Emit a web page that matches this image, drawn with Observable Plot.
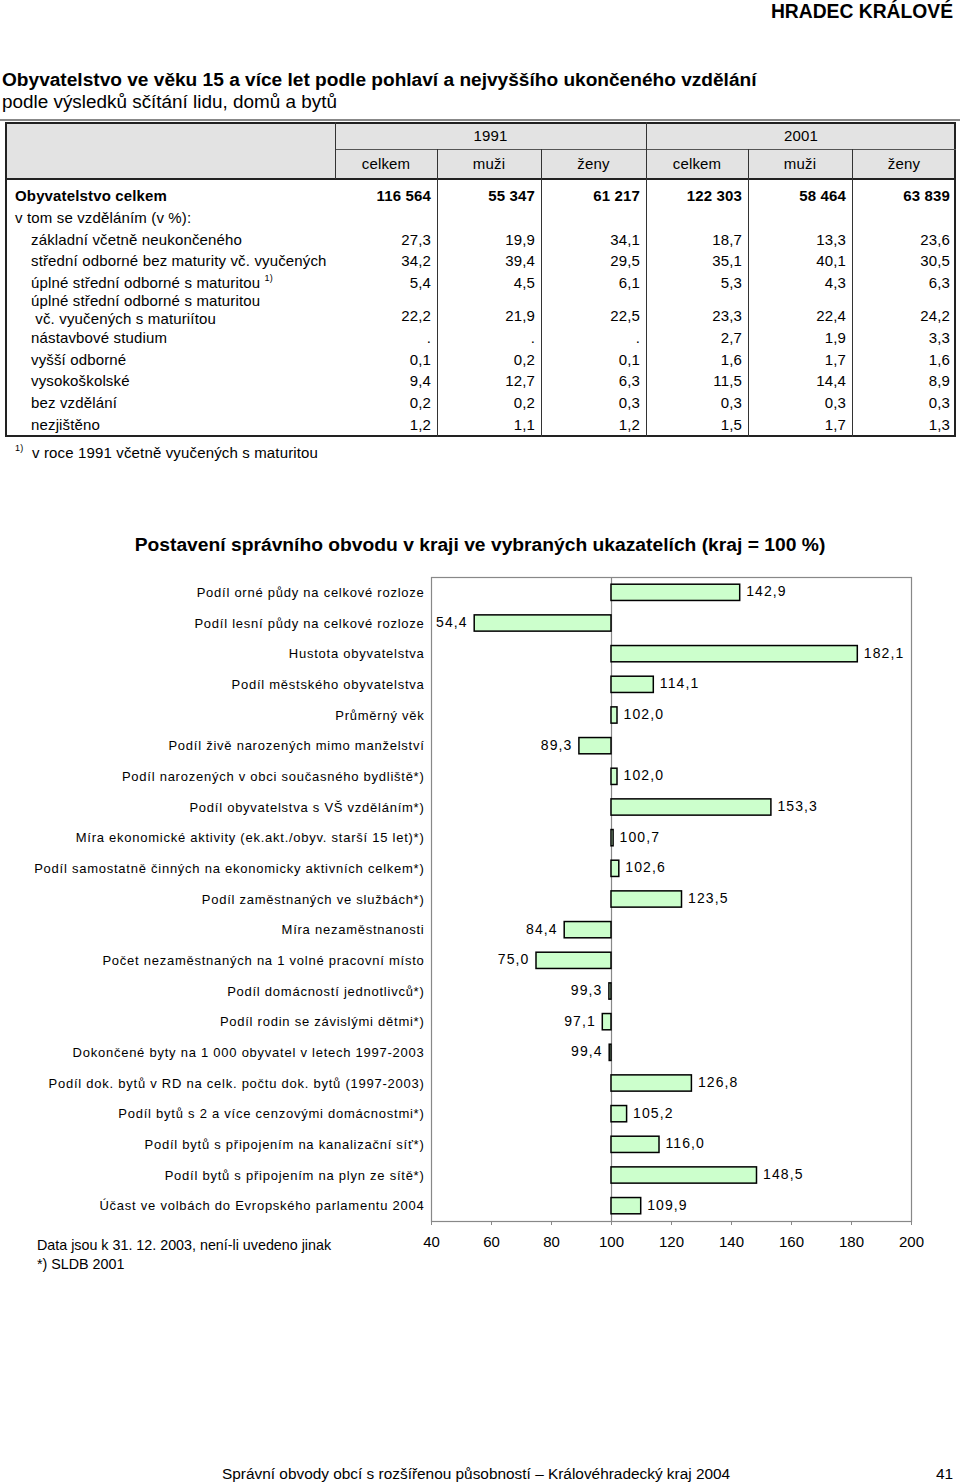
<!DOCTYPE html>
<html>
<head>
<meta charset="utf-8">
<script src="https://cdn.jsdelivr.net/npm/d3@7"></script>
<script src="https://cdn.jsdelivr.net/npm/@observablehq/plot@0.6"></script>
<style>
html,body{margin:0;padding:0;background:#fff;}
body{width:960px;height:1484px;position:relative;overflow:hidden;font-family:"Liberation Sans",Arial,sans-serif;color:#000;}
.abs{position:absolute;white-space:nowrap;}
.ln{position:absolute;background:#333;}
.tc{position:absolute;white-space:nowrap;font-size:15px;line-height:17px;letter-spacing:0.15px;}
sup.fn{font-size:9px;vertical-align:7px;line-height:0;}
#chart{position:absolute;left:0;top:560px;}
#chart g[aria-label="y-axis tick label"] text{letter-spacing:0.75px;}
#chart g[aria-label="text"] text{letter-spacing:1.1px;}
</style>
</head>
<body>
<div class="abs" style="right:7px;top:1px;font-size:19.3px;line-height:22px;font-weight:bold;">HRADEC KRÁLOVÉ</div>
<div class="abs" style="left:2px;top:69px;font-size:19.1px;line-height:22px;font-weight:bold;">Obyvatelstvo ve věku 15 a více let podle pohlaví a nejvyššího ukončeného vzdělání</div>
<div class="abs" style="left:2px;top:91px;font-size:18.9px;line-height:22px;">podle výsledků sčítání lidu, domů a bytů</div>
<div class="ln" style="left:0;top:119px;width:960px;height:2px;background:#888;"></div>
<div id="table"></div>
<div class="abs" style="left:0;width:960px;text-align:center;top:534px;font-size:19.25px;line-height:22px;font-weight:bold;">Postavení správního obvodu v kraji ve vybraných ukazatelích (kraj = 100 %)</div>
<div id="chart"></div>
<div class="abs" style="left:37px;top:1236px;font-size:14.3px;line-height:18px;z-index:2;">Data jsou k 31. 12. 2003, není-li uvedeno jinak</div>
<div class="abs" style="left:37px;top:1255px;font-size:14.3px;line-height:18px;z-index:2;">*) SLDB 2001</div>
<div class="abs" style="left:222px;top:1464px;font-size:15.4px;line-height:20px;">Správní obvody obcí s rozšířenou působností – Královéhradecký kraj 2004</div>
<div class="abs" style="right:7px;top:1464px;font-size:15.4px;line-height:20px;">41</div>
<script>
// ---------- table data ----------
const yearLabels = ["1991", "2001"];
const colLabels = ["celkem", "muži", "ženy", "celkem", "muži", "ženy"];
const rowLabels = [
  "Obyvatelstvo celkem",
  "v tom se vzděláním (v %):",
  "základní včetně neukončeného",
  "střední odborné bez maturity vč. vyučených",
  "úplné střední odborné s maturitou",
  "úplné střední odborné s maturitou| vč. vyučených s maturiítou",
  "nástavbové studium",
  "vyšší odborné",
  "vysokoškolské",
  "bez vzdělání",
  "nezjištěno"
];
const rowNotes = ["", "", "", "", "1)", "", "", "", "", "", ""];
const v1991celkem = ["116 564", "", "27,3", "34,2", "5,4", "22,2", ".", "0,1", "9,4", "0,2", "1,2"];
const v1991muzi   = ["55 347", "", "19,9", "39,4", "4,5", "21,9", ".", "0,2", "12,7", "0,2", "1,1"];
const v1991zeny   = ["61 217", "", "34,1", "29,5", "6,1", "22,5", ".", "0,1", "6,3", "0,3", "1,2"];
const v2001celkem = ["122 303", "", "18,7", "35,1", "5,3", "23,3", "2,7", "1,6", "11,5", "0,3", "1,5"];
const v2001muzi   = ["58 464", "", "13,3", "40,1", "4,3", "22,4", "1,9", "1,7", "14,4", "0,3", "1,7"];
const v2001zeny   = ["63 839", "", "23,6", "30,5", "6,3", "24,2", "3,3", "1,6", "8,9", "0,3", "1,3"];
const tableNote = "v roce 1991 včetně vyučených s maturitou";

// ---------- chart data ----------
const categories = [
  "Podíl orné půdy na celkové rozloze",
  "Podíl lesní půdy na celkové rozloze",
  "Hustota obyvatelstva",
  "Podíl městského obyvatelstva",
  "Průměrný věk",
  "Podíl živě narozených mimo manželství",
  "Podíl narozených v obci současného bydliště*)",
  "Podíl obyvatelstva s VŠ vzděláním*)",
  "Míra ekonomické aktivity (ek.akt./obyv. starší 15 let)*)",
  "Podíl samostatně činných na ekonomicky aktivních celkem*)",
  "Podíl zaměstnaných ve službách*)",
  "Míra nezaměstnanosti",
  "Počet nezaměstnaných na 1 volné pracovní místo",
  "Podíl domácností jednotlivců*)",
  "Podíl rodin se závislými dětmi*)",
  "Dokončené byty na 1 000 obyvatel v letech 1997-2003",
  "Podíl dok. bytů v RD na celk. počtu dok. bytů (1997-2003)",
  "Podíl bytů s 2 a více cenzovými domácnostmi*)",
  "Podíl bytů s připojením na kanalizační síť*)",
  "Podíl bytů s připojením na plyn ze sítě*)",
  "Účast ve volbách do Evropského parlamentu 2004"
];
const values = [142.9, 54.4, 182.1, 114.1, 102.0, 89.3, 102.0, 153.3, 100.7, 102.6, 123.5, 84.4, 75.0, 99.3, 97.1, 99.4, 126.8, 105.2, 116.0, 148.5, 109.9];
const xTicks = [40, 60, 80, 100, 120, 140, 160, 180, 200];
const baseline = 100;

// ---------- build table ----------
const T = document.getElementById("table");
function el(cls, style, html) {
  const d = document.createElement("div");
  d.className = cls;
  d.setAttribute("style", style);
  if (html != null) d.innerHTML = html;
  T.appendChild(d);
  return d;
}
const colX = [335, 437, 541, 646, 748, 852, 956];
el("ln", "left:5px;top:122px;width:951px;height:57px;background:#e3e3e3;");
el("ln", "left:5px;top:122px;width:951px;height:315px;background:transparent;border:2px solid #222;box-sizing:border-box;");
el("ln", "left:5px;top:178px;width:951px;height:2px;background:#222;");
el("ln", "left:335px;top:149px;width:621px;height:1px;background:#555;");
el("ln", "left:335px;top:122px;width:1px;height:57px;");
el("ln", "left:646px;top:122px;width:1px;height:315px;");
[437, 541, 748, 852].forEach(x => el("ln", `left:${x}px;top:149px;width:1px;height:288px;`));
yearLabels.forEach((t, i) => {
  const x0 = i === 0 ? 335 : 646, x1 = i === 0 ? 646 : 956;
  el("tc", `left:${x0}px;width:${x1 - x0}px;text-align:center;top:126.5px;`, t);
});
colLabels.forEach((t, i) => {
  el("tc", `left:${colX[i]}px;width:${colX[i + 1] - colX[i]}px;text-align:center;top:154.5px;`, t);
});
const rowCenters = [196, 218, 240, 261, 283, 310, 338, 360, 381, 403, 425];
const cols = [v1991celkem, v1991muzi, v1991zeny, v2001celkem, v2001muzi, v2001zeny];
rowLabels.forEach((lab, r) => {
  const bold = r === 0 ? "font-weight:bold;" : "";
  const left = r < 2 ? 15 : 31;
  const parts = lab.split("|");
  const note = rowNotes[r] ? ` <sup class="fn">${rowNotes[r]}</sup>` : "";
  if (parts.length === 1) {
    el("tc", `left:${left}px;top:${rowCenters[r] - 9.5}px;${bold}`, parts[0] + note);
  } else {
    el("tc", `left:${left}px;top:${rowCenters[r] - 18.5}px;`, parts[0]);
    el("tc", `left:${left}px;top:${rowCenters[r] - 0.5}px;white-space:pre;`, parts[1]);
  }
  const vy = parts.length === 1 ? rowCenters[r] : rowCenters[r] + 6;
  cols.forEach((col, c) => {
    if (col[r] === "") return;
    const x1 = colX[c + 1] - 6;
    el("tc", `left:${x1 - 100}px;width:100px;text-align:right;top:${vy - 9.5}px;${bold}`, col[r]);
  });
});
el("tc", "left:15px;top:444px;", `<sup class="fn">1)</sup>&nbsp; ${tableNote}`);

// ---------- build chart ----------
const data = categories.map((name, i) => ({name, value: values[i]}));
const fmt = v => v.toFixed(1).replace(".", ",");
const chart = Plot.plot({
  width: 960,
  height: 701,
  marginLeft: 431,
  marginRight: 49,
  marginTop: 17,
  marginBottom: 40,
  style: {fontFamily: '"Liberation Sans", Arial, sans-serif', fontSize: "13px", color: "#000", background: "transparent", overflow: "visible"},
  x: {domain: [40, 200]},
  y: {domain: categories, paddingInner: 0.47, paddingOuter: 0.235, round: false},
  marks: [
    Plot.frame({stroke: "#888", strokeWidth: 1.2}),
    Plot.ruleX([baseline], {stroke: "#888", strokeWidth: 1.2}),
    Plot.barX(data, {y: "name", x1: baseline, x2: "value", fill: "#ccffcc", stroke: "#000", strokeWidth: 1.5}),
    Plot.text(data.filter(d => d.value >= baseline), {y: "name", x: "value", text: d => fmt(d.value), textAnchor: "start", dx: 6, dy: -1, fontSize: 14, fill: "#000"}),
    Plot.text(data.filter(d => d.value < baseline), {y: "name", x: "value", text: d => fmt(d.value), textAnchor: "end", dx: -7, dy: -1, fontSize: 14, fill: "#000"}),
    Plot.axisX({ticks: xTicks, tickFormat: d => String(d), tickSize: 4, tickPadding: 11, fontSize: 15, stroke: "#888", label: null}),
    Plot.axisY({tickSize: 0, tickPadding: 7, fontSize: 13, label: null})
  ]
});
document.getElementById("chart").appendChild(chart);
</script>
</body>
</html>
